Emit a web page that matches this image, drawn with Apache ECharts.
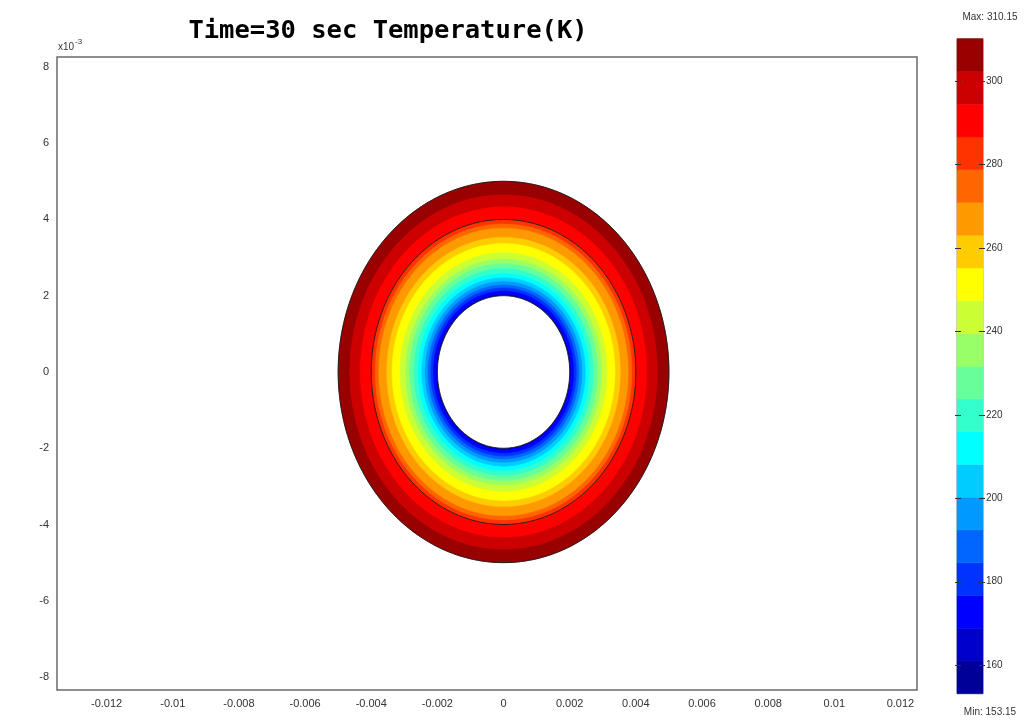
<!DOCTYPE html>
<html>
<head>
<meta charset="utf-8">
<title>Time=30 sec Temperature(K)</title>
<script src="https://cdn.jsdelivr.net/npm/echarts@6/dist/echarts.min.js"></script>
<style>
  html, body { margin: 0; padding: 0; background: #fff; }
  #chart { width: 1028px; height: 724px; }
</style>
</head>
<body>
<div id="chart"></div>
<script>
// Axis tick positions (metres) and colour-bar ticks (K)
const xTickValues = [-0.012, -0.01, -0.008, -0.006, -0.004, -0.002, 0, 0.002, 0.004, 0.006, 0.008, 0.01, 0.012];
const yTickValues = [-0.008, -0.006, -0.004, -0.002, 0, 0.002, 0.004, 0.006, 0.008];
const colorbarTicks = [160, 180, 200, 220, 240, 260, 280, 300];

// Temperature range and filled-contour levels (K)
const tempMin = 153.15;
const tempMax = 310.15;
const contourLevels = [153.15, 161.00, 168.85, 176.70, 184.55, 192.40, 200.25, 208.10, 215.95, 223.80,
                       231.65, 239.50, 247.35, 255.20, 263.05, 270.90, 278.75, 286.60, 294.45, 302.30, 310.15];

// Radius (m) of the isotherm at each contour level, probe surface to outer boundary
const isothermRadius = [0.00200, 0.002005, 0.00203, 0.00212, 0.00220, 0.00228, 0.00237, 0.00247, 0.00258, 0.00271,
                        0.00284, 0.00296, 0.00313, 0.00337, 0.00353, 0.00377, 0.00388, 0.00400, 0.00433, 0.00465, 0.00500];

// Material interface between the two tissue layers (m)
const interfaceRadius = 0.004;

// Jet palette, one colour per contour band (low to high)
const jetColors = ['#000099', '#0000cc', '#0000ff', '#0033ff', '#0066ff', '#0099ff', '#00ccff', '#00ffff',
                   '#33ffcc', '#66ff99', '#99ff66', '#ccff33', '#ffff00', '#ffcc00', '#ff9900', '#ff6600',
                   '#ff3300', '#ff0000', '#cc0000', '#990000'];

const chart = echarts.init(document.getElementById('chart'), null, { renderer: 'canvas' });

// Polygon outline of a circle of radius r in data space, mapped through the axes
function circlePoints(api, r) {
  const pts = [];
  for (let a = 0; a < 360; a += 1.5) {
    const t = a * Math.PI / 180;
    pts.push(api.coord([r * Math.cos(t), r * Math.sin(t)]));
  }
  return pts;
}

// Bands listed outermost first so inner discs paint over outer ones
const bandData = [];
for (let k = contourLevels.length - 2; k >= 0; k--) {
  bandData.push([k, isothermRadius[k + 1], contourLevels[k], contourLevels[k + 1]]);
}
const colorbarData = [];
for (let k = 0; k < contourLevels.length - 1; k++) {
  colorbarData.push([k, contourLevels[k], contourLevels[k + 1]]);
}

const labelFont = { fontFamily: 'Liberation Sans', fontSize: 11, color: '#333' };

const option = {
  backgroundColor: '#ffffff',
  animation: false,
  grid: [
    { left: 57, top: 57, width: 860, height: 633, show: true, borderColor: '#6a6a6a', borderWidth: 1.5, containLabel: false },
    { left: 957, top: 38.7, width: 26, height: 655, show: true, borderColor: '#999', borderWidth: 1, containLabel: false }
  ],
  xAxis: [
    {
      gridIndex: 0, type: 'value', min: -0.0135, max: 0.0125,
      axisLine: { show: false }, splitLine: { show: false },
      axisTick: { show: false },
      axisLabel: Object.assign({ customValues: xTickValues, margin: 8,
        formatter: v => String(Math.round(v * 1000) / 1000) }, labelFont)
    },
    { gridIndex: 1, type: 'value', min: 0, max: 1, show: false }
  ],
  yAxis: [
    {
      gridIndex: 0, type: 'value', min: -0.00834, max: 0.00826,
      axisLine: { show: false }, splitLine: { show: false },
      axisTick: { show: false },
      axisLabel: Object.assign({ customValues: yTickValues, margin: 8,
        formatter: v => String(Math.round(v * 1000)) }, labelFont)
    },
    {
      gridIndex: 1, type: 'value', min: tempMin, max: tempMax, position: 'right',
      axisLine: { show: false }, splitLine: { show: false },
      axisTick: { show: false },
      axisLabel: Object.assign({ customValues: colorbarTicks, margin: 3, formatter: v => String(v) }, labelFont, { fontSize: 10 })
    }
  ],
  series: [
    {
      // Filled temperature contours of the annulus
      type: 'custom', xAxisIndex: 0, yAxisIndex: 0, coordinateSystem: 'cartesian2d',
      data: bandData, z: 2, silent: true,
      renderItem: function (params, api) {
        const k = api.value(0);
        const r = api.value(1);
        return {
          type: 'polygon',
          shape: { points: circlePoints(api, r) },
          style: { fill: jetColors[k], stroke: jetColors[k], lineWidth: 0.5 }
        };
      }
    },
    {
      // Probe hole, interface and outer boundary outlines
      type: 'custom', xAxisIndex: 0, yAxisIndex: 0, coordinateSystem: 'cartesian2d',
      data: [[isothermRadius[0], 1], [interfaceRadius, 0], [isothermRadius[isothermRadius.length - 1], 0]],
      z: 3, silent: true,
      renderItem: function (params, api) {
        const r = api.value(0);
        const filled = api.value(1) === 1;
        return {
          type: 'polygon',
          shape: { points: circlePoints(api, r) },
          style: { fill: filled ? '#ffffff' : null, stroke: '#1a1a1a', lineWidth: 0.9 }
        };
      }
    },
    {
      // Colour bar bands
      type: 'custom', xAxisIndex: 1, yAxisIndex: 1, coordinateSystem: 'cartesian2d',
      data: colorbarData, z: 1, silent: true,
      renderItem: function (params, api) {
        const k = api.value(0);
        const p1 = api.coord([0, api.value(2)]);
        const p2 = api.coord([1, api.value(1)]);
        return {
          type: 'rect',
          shape: { x: p1[0], y: p1[1], width: p2[0] - p1[0], height: p2[1] - p1[1] },
          style: { fill: jetColors[k], stroke: jetColors[k], lineWidth: 0.5 }
        };
      }
    },
    {
      // Short tick dashes on both edges of the colour bar
      type: 'custom', xAxisIndex: 1, yAxisIndex: 1, coordinateSystem: 'cartesian2d',
      data: colorbarTicks.map(v => [v]), z: 4, silent: true,
      renderItem: function (params, api) {
        const left = api.coord([0, api.value(0)]);
        const right = api.coord([1, api.value(0)]);
        const y = Math.round(left[1]) + 0.5;
        return {
          type: 'group',
          children: [
            { type: 'line', shape: { x1: left[0] - 2, y1: y, x2: left[0] + 4, y2: y }, style: { stroke: '#333', lineWidth: 1 } },
            { type: 'line', shape: { x1: right[0] - 4, y1: y, x2: right[0] + 2, y2: y }, style: { stroke: '#333', lineWidth: 1 } }
          ]
        };
      }
    }
  ],
  graphic: [
    {
      type: 'text', x: 388, y: 31,
      style: { text: 'Time=30 sec Temperature(K)', font: 'bold 25.5px "DejaVu Sans Mono"', fill: '#000',
               align: 'center', verticalAlign: 'middle' }
    },
    {
      type: 'text', x: 58, y: 52,
      style: { text: 'x10', font: '10px "Liberation Sans"', fill: '#333', align: 'left', verticalAlign: 'bottom' }
    },
    {
      type: 'text', x: 75, y: 46,
      style: { text: '-3', font: '8px "Liberation Sans"', fill: '#333', align: 'left', verticalAlign: 'bottom' }
    },
    {
      type: 'text', x: 990, y: 17,
      style: { text: 'Max: ' + tempMax.toFixed(2), font: '10px "Liberation Sans"', fill: '#333', align: 'center', verticalAlign: 'middle' }
    },
    {
      type: 'text', x: 990, y: 712,
      style: { text: 'Min: ' + tempMin.toFixed(2), font: '10px "Liberation Sans"', fill: '#333', align: 'center', verticalAlign: 'middle' }
    }
  ]
};

chart.setOption(option);
</script>
</body>
</html>
